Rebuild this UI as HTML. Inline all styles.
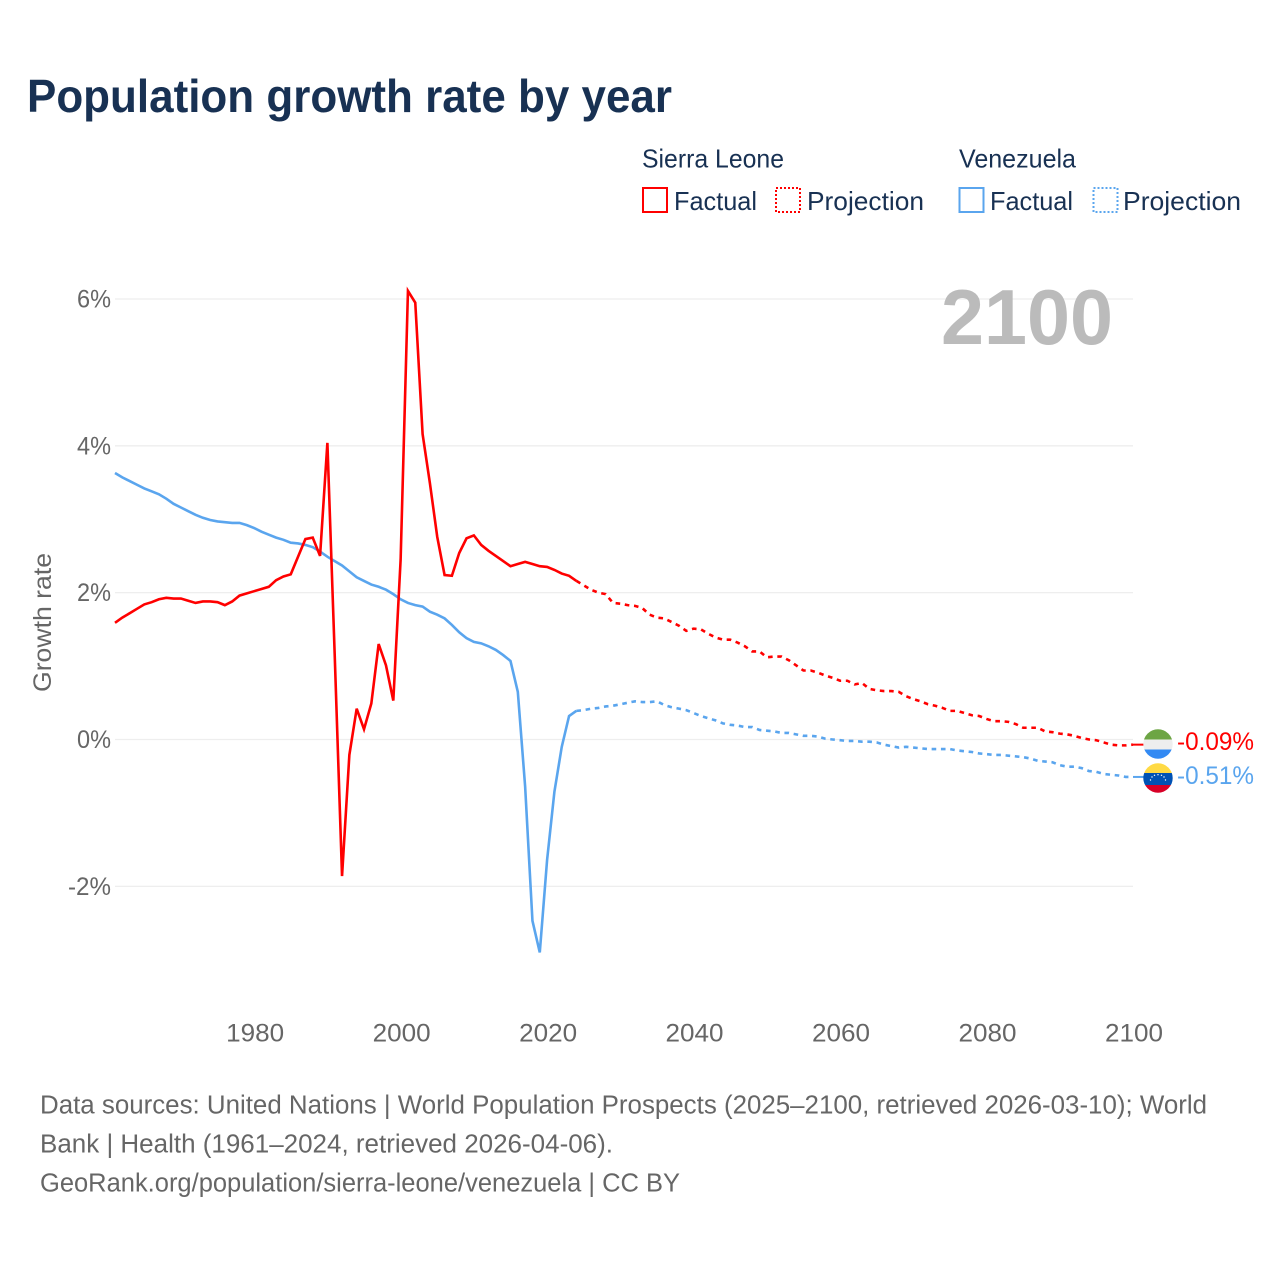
<!DOCTYPE html>
<html lang="en">
<head>
<meta charset="utf-8">
<title>Population growth rate by year</title>
<style>
html,body{margin:0;padding:0;background:#fff;}
svg{display:block;font-family:"Liberation Sans",sans-serif;}
</style>
</head>
<body>
<svg id="chart" xmlns="http://www.w3.org/2000/svg" width="1280" height="1280" viewBox="0 0 1280 1280">
  <rect x="0" y="0" width="1280" height="1280" fill="#ffffff"/>
  <text x="27" y="112" font-size="46" font-weight="700" fill="#183153" textLength="645" lengthAdjust="spacingAndGlyphs">Population growth rate by year</text>

  <g font-size="26" fill="#183153">
    <text x="642" y="167.5" textLength="142" lengthAdjust="spacingAndGlyphs">Sierra Leone</text>
    <text x="959" y="167.5" textLength="117" lengthAdjust="spacingAndGlyphs">Venezuela</text>
    <rect x="643" y="188" width="24" height="24" fill="none" stroke="#ff0000" stroke-width="2"/>
    <text x="674" y="210" textLength="83" lengthAdjust="spacingAndGlyphs">Factual</text>
    <rect x="776" y="188" width="24" height="24" fill="none" stroke="#ff0000" stroke-width="2" stroke-dasharray="2 2"/>
    <text x="807" y="210" textLength="117" lengthAdjust="spacingAndGlyphs">Projection</text>
    <rect x="959.5" y="188" width="24" height="24" fill="none" stroke="#5aa5ee" stroke-width="2"/>
    <text x="990" y="210" textLength="83" lengthAdjust="spacingAndGlyphs">Factual</text>
    <rect x="1093.5" y="188" width="24" height="24" fill="none" stroke="#5aa5ee" stroke-width="2" stroke-dasharray="2 2"/>
    <text x="1123" y="210" textLength="118" lengthAdjust="spacingAndGlyphs">Projection</text>
  </g>

  <g id="grid"></g>
  <g id="yticks" font-size="25" fill="#666666"></g>
  <g id="xticks" font-size="25" fill="#666666"></g>
  <text transform="translate(51,622.5) rotate(-90)" text-anchor="middle" font-size="25" fill="#666666" textLength="139" lengthAdjust="spacingAndGlyphs">Growth rate</text>
  <text id="year-label" x="1113" y="344" text-anchor="end" font-size="78" font-weight="700" fill="#bbbbbb" textLength="172" lengthAdjust="spacingAndGlyphs">2100</text>

  <g id="series"></g>

  <defs>
    <clipPath id="clip-sl"><circle cx="1158" cy="744" r="14.7"/></clipPath>
    <clipPath id="clip-ve"><circle cx="1158" cy="778" r="14.7"/></clipPath>
  </defs>
  <g clip-path="url(#clip-sl)">
    <rect x="1143" y="729" width="30" height="10.5" fill="#6da544"/>
    <rect x="1143" y="739.5" width="30" height="10" fill="#eeeeee"/>
    <rect x="1143" y="749.5" width="30" height="10" fill="#338af3"/>
  </g>
  <g clip-path="url(#clip-ve)">
    <rect x="1143" y="763" width="30" height="10" fill="#ffda44"/>
    <rect x="1143" y="773" width="30" height="12" fill="#0052b4"/>
    <rect x="1143" y="785" width="30" height="9" fill="#d80027"/>
    <g fill="#ffffff">
      <circle cx="1150.5" cy="780" r="0.7"/>
      <circle cx="1152" cy="777" r="0.7"/>
      <circle cx="1154.5" cy="775.3" r="0.7"/>
      <circle cx="1158" cy="774.7" r="0.7"/>
      <circle cx="1161.5" cy="775.3" r="0.7"/>
      <circle cx="1164" cy="777" r="0.7"/>
      <circle cx="1165.5" cy="780" r="0.7"/>
    </g>
  </g>
  <text id="label-sl" x="1177" y="750" font-size="25" fill="#ff0000" textLength="77" lengthAdjust="spacingAndGlyphs"></text>
  <text id="label-ve" x="1177" y="784" font-size="25" fill="#5aa5ee" textLength="77" lengthAdjust="spacingAndGlyphs"></text>

  <g font-size="25.5" fill="#666666">
    <text x="40" y="1113.5" textLength="1167" lengthAdjust="spacingAndGlyphs">Data sources: United Nations | World Population Prospects (2025–2100, retrieved 2026-03-10); World</text>
    <text x="40" y="1152.5" textLength="573" lengthAdjust="spacingAndGlyphs">Bank | Health (1961–2024, retrieved 2026-04-06).</text>
    <text x="40" y="1191.5" textLength="640" lengthAdjust="spacingAndGlyphs">GeoRank.org/population/sierra-leone/venezuela | CC BY</text>
  </g>
</svg>

<script>
var factualStartYear = 1961;
var projectionStartYear = 2025;
var yTickValues = [6, 4, 2, 0, -2];
var yTickLabels = ["6%", "4%", "2%", "0%", "-2%"];
var xTickYears = [1980, 2000, 2020, 2040, 2060, 2080, 2100];
var endLabelSierraLeone = "-0.09%";
var endLabelVenezuela = "-0.51%";

var sierraLeoneFactual = [
  1.59,1.66,1.72,1.78,1.84,1.87,1.91,1.93,1.92,1.92,
  1.89,1.86,1.88,1.88,1.87,1.83,1.88,1.96,1.99,2.02,
  2.05,2.08,2.17,2.22,2.25,2.49,2.73,2.75,2.50,4.04,
  1.15,-1.86,-0.21,0.42,0.14,0.49,1.30,1.01,0.53,2.45,
  6.11,5.95,4.16,3.49,2.76,2.24,2.23,2.54,2.74,2.78,
  2.65,2.57,2.50,2.43,2.36,2.39,2.42,2.39,2.36,2.35,
  2.31,2.26,2.23,2.16
];
var sierraLeoneProjection = [
  2.10,2.04,2.00,1.98,1.86,1.85,1.83,1.82,1.79,1.70,
  1.66,1.65,1.60,1.55,1.48,1.51,1.50,1.44,1.39,1.36,
  1.36,1.32,1.27,1.20,1.20,1.12,1.13,1.13,1.08,1.01,
  0.94,0.94,0.91,0.87,0.84,0.80,0.80,0.75,
  0.77,0.69,0.67,0.66,0.66,0.65,0.59,0.55,0.52,0.48,
  0.46,0.43,0.39,0.39,0.36,0.33,0.32,0.28,0.25,0.25,
  0.24,0.21,0.16,0.16,0.16,0.11,0.10,0.08,0.07,0.05,
  0.02,0.00,-0.01,-0.04,-0.07,-0.08,-0.08,-0.07
];
var venezuelaFactual = [
  3.63,3.57,3.52,3.47,3.42,3.38,3.34,3.28,3.21,3.16,
  3.11,3.06,3.02,2.99,2.97,2.96,2.95,2.95,2.92,2.88,
  2.83,2.79,2.75,2.72,2.68,2.67,2.65,2.62,2.56,2.49,
  2.43,2.37,2.29,2.21,2.16,2.11,2.08,2.04,1.98,1.91,
  1.86,1.83,1.81,1.74,1.70,1.65,1.56,1.46,1.38,1.33,
  1.31,1.27,1.22,1.15,1.07,0.65,-0.64,-2.47,-2.90,-1.64,
  -0.71,-0.10,0.32,0.39
];
var venezuelaProjection = [
  0.40,0.42,0.43,0.45,0.46,0.48,0.50,0.52,0.51,0.51,
  0.52,0.47,0.44,0.42,0.40,0.36,
  0.32,0.29,0.26,0.22,0.20,0.19,0.17,0.17,0.13,0.12,
  0.11,0.09,0.09,0.07,0.05,0.05,0.04,0.01,0.00,-0.01,
  -0.02,-0.02,-0.03,-0.03,-0.04,-0.07,-0.09,-0.11,-0.10,-0.11,
  -0.12,-0.13,-0.13,-0.13,-0.13,-0.15,-0.16,-0.17,-0.19,-0.20,
  -0.21,-0.21,-0.22,-0.23,-0.24,-0.26,-0.29,-0.30,-0.31,-0.35,
  -0.37,-0.37,-0.39,-0.43,-0.44,-0.47,-0.48,-0.49,-0.51,-0.51
];

var SVG_NS = "http://www.w3.org/2000/svg";
function xScale(year) { return 115 + (year - 1961) * (1133 - 115) / (2100 - 1961); }
function yScale(v) { return 739.5 - v * 73.42; }

function pathFrom(startYear, values) {
  var d = "";
  for (var i = 0; i < values.length; i++) {
    d += (i === 0 ? "M" : "L") + xScale(startYear + i).toFixed(2) + " " + yScale(values[i]).toFixed(2);
  }
  return d;
}

var gridGroup = document.getElementById("grid");
var yTickGroup = document.getElementById("yticks");
yTickValues.forEach(function (v, i) {
  var line = document.createElementNS(SVG_NS, "line");
  
  
  line.setAttribute("x1", xScale(1961));
  line.setAttribute("x2", xScale(2100));
  line.setAttribute("y1", yScale(v));
  line.setAttribute("y2", yScale(v));
  line.setAttribute("stroke", "#eeeeee");
  line.setAttribute("stroke-width", "1.3");
  gridGroup.appendChild(line);

  var t = document.createElementNS(SVG_NS, "text");
  
  
  t.setAttribute("x", "111");
  t.setAttribute("y", yScale(v) + 8.5);
  t.setAttribute("text-anchor", "end");
  t.setAttribute("textLength", yTickLabels[i].length === 3 ? "43" : "34");
  t.setAttribute("lengthAdjust", "spacingAndGlyphs");
  t.textContent = yTickLabels[i];
  yTickGroup.appendChild(t);
});

var xTickGroup = document.getElementById("xticks");
xTickYears.forEach(function (yr) {
  var t = document.createElementNS(SVG_NS, "text");
  
  
  t.setAttribute("x", xScale(yr) + 1);
  t.setAttribute("y", "1041.5");
  t.setAttribute("text-anchor", "middle");
  t.setAttribute("textLength", "58");
  t.setAttribute("lengthAdjust", "spacingAndGlyphs");
  t.textContent = String(yr);
  xTickGroup.appendChild(t);
});

var seriesGroup = document.getElementById("series");
function addLine(name, d, color, dashed) {
  var p = document.createElementNS(SVG_NS, "path");
  
  
  p.setAttribute("d", d);
  p.setAttribute("fill", "none");
  p.setAttribute("stroke", color);
  p.setAttribute("stroke-width", "2.6");
  p.setAttribute("stroke-linejoin", "miter");
  if (dashed) { p.setAttribute("stroke-dasharray", "4.6 4.7"); }
  seriesGroup.appendChild(p);
}

var RED = "#ff0000";
var BLUE = "#5aa5ee";
var lastYear = projectionStartYear - 1;

addLine('line-venezuela-factual', pathFrom(factualStartYear, venezuelaFactual), BLUE, false);
addLine('line-venezuela-projection', pathFrom(lastYear, [venezuelaFactual[venezuelaFactual.length - 1]].concat(venezuelaProjection)), BLUE, true);
addLine('line-sierra-leone-factual', pathFrom(factualStartYear, sierraLeoneFactual), RED, false);
addLine('line-sierra-leone-projection', pathFrom(lastYear, [sierraLeoneFactual[sierraLeoneFactual.length - 1]].concat(sierraLeoneProjection)), RED, true);

function addConnector(name, v, color) {
  var c = document.createElementNS(SVG_NS, "line");
  
  
  c.setAttribute("x1", xScale(2100));
  c.setAttribute("x2", xScale(2100) + 12);
  c.setAttribute("y1", yScale(v));
  c.setAttribute("y2", yScale(v));
  c.setAttribute("stroke", color);
  c.setAttribute("stroke-width", "2");
  seriesGroup.appendChild(c);
}
addConnector('connector-venezuela', venezuelaProjection[venezuelaProjection.length - 1], BLUE);
addConnector('connector-sierra-leone', sierraLeoneProjection[sierraLeoneProjection.length - 1], RED);

document.getElementById("label-sl").textContent = endLabelSierraLeone;
document.getElementById("label-ve").textContent = endLabelVenezuela;
</script>
</body>
</html>
